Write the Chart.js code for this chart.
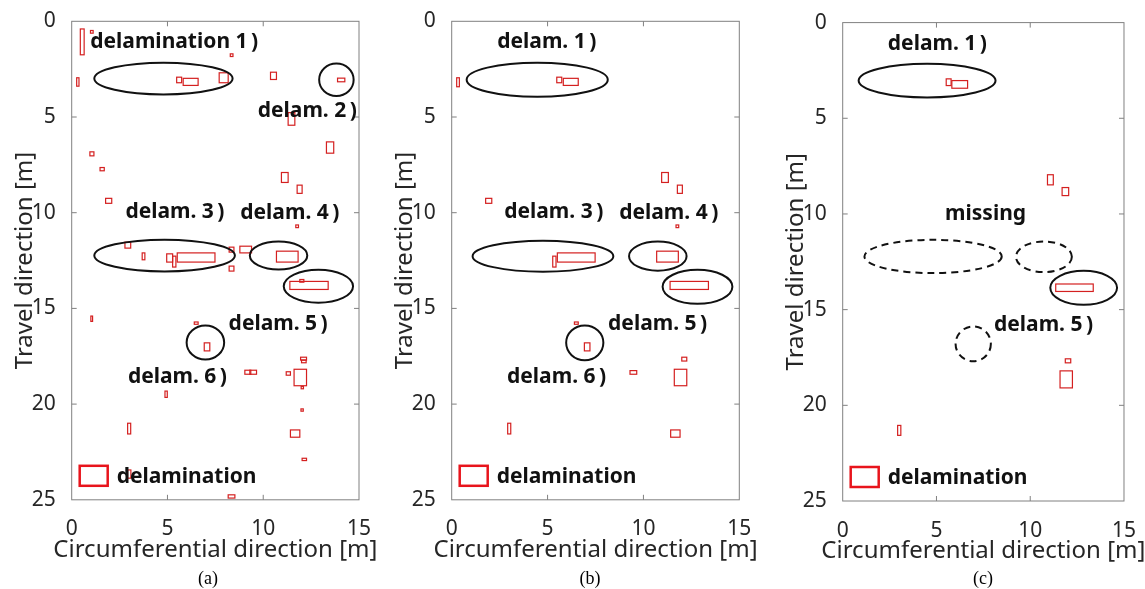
<!DOCTYPE html>
<html>
<head>
<meta charset="utf-8">
<script src="https://cdn.jsdelivr.net/npm/chart.js@4.4.1/dist/chart.umd.min.js"></script>
<style>
  body { margin: 0; background: #fff; width: 1145px; height: 589px; position: relative; overflow: hidden; }
  .panel { position: absolute; top: 0; height: 570px; }
  .cap { position: absolute; top: 569px; width: 40px; margin-left: -20px; text-align: center;
         font-family: "Liberation Serif", serif; font-size: 18px; line-height: 18px; color: #000; }
</style>
</head>
<body>
<div class="panel" style="left:0;width:385px"><canvas id="chartA"></canvas></div>
<div class="panel" style="left:380px;width:385px"><canvas id="chartB"></canvas></div>
<div class="panel" style="left:771px;width:374px"><canvas id="chartC"></canvas></div>
<div class="cap" style="left:208px">(a)</div>
<div class="cap" style="left:590px">(b)</div>
<div class="cap" style="left:983px">(c)</div>
<script>
// axis ranges (m)
const xRange = [0, 15];
const yRange = [0, 25];
const tickStep = 5;

// delaminations: [x0, y0, x1, y1] in metres
const rectsA = [
  [0.45, 0.4, 0.65, 1.75], [0.98, 0.48, 1.12, 0.62], [8.28, 1.7, 8.42, 1.84],
  [0.26, 2.95, 0.38, 3.39], [5.48, 2.92, 5.74, 3.21], [5.82, 2.98, 6.6, 3.35],
  [7.7, 2.69, 8.17, 3.21], [10.38, 2.66, 10.69, 3.04], [13.88, 2.97, 14.26, 3.16],
  [11.3, 4.77, 11.65, 5.43], [13.3, 6.3, 13.68, 6.89], [0.95, 6.82, 1.16, 7.03],
  [1.48, 7.64, 1.7, 7.81], [10.95, 7.9, 11.3, 8.42], [11.77, 8.56, 12.03, 8.99],
  [1.77, 9.25, 2.09, 9.51], [11.7, 10.64, 11.84, 10.78], [2.78, 11.54, 3.08, 11.85],
  [3.68, 12.1, 3.82, 12.46], [4.96, 12.15, 5.27, 12.58], [5.27, 12.27, 5.44, 12.84],
  [5.51, 12.1, 7.48, 12.58], [8.22, 11.8, 8.47, 12.06], [8.22, 12.79, 8.47, 13.05],
  [8.78, 11.75, 9.39, 12.1], [10.69, 12.01, 11.82, 12.58], [11.91, 13.49, 12.12, 13.63],
  [11.39, 13.59, 13.39, 14.01], [1.0, 15.4, 1.09, 15.68], [6.4, 15.71, 6.6, 15.83],
  [6.92, 16.8, 7.21, 17.22], [9.04, 18.23, 9.35, 18.44], [9.3, 18.23, 9.65, 18.44],
  [11.2, 18.31, 11.42, 18.49], [11.95, 17.55, 12.26, 17.7], [12.0, 17.7, 12.24, 17.84],
  [11.61, 18.18, 12.26, 19.04], [11.98, 19.08, 12.1, 19.2], [4.87, 19.32, 4.99, 19.65],
  [11.97, 20.25, 12.09, 20.37], [2.92, 21.0, 3.08, 21.56], [11.42, 21.35, 11.91, 21.73],
  [12.03, 22.83, 12.26, 22.95], [2.92, 23.44, 3.09, 23.87], [8.17, 24.74, 8.52, 24.91]
];
const rectsB = [
  [0.26, 2.95, 0.4, 3.42], [5.48, 2.92, 5.74, 3.21], [5.82, 2.98, 6.6, 3.35],
  [10.95, 7.9, 11.3, 8.42], [11.77, 8.56, 12.03, 8.99], [1.77, 9.25, 2.09, 9.51],
  [11.7, 10.64, 11.84, 10.78], [5.27, 12.27, 5.44, 12.84], [5.51, 12.1, 7.48, 12.58],
  [10.69, 12.01, 11.82, 12.58], [11.39, 13.59, 13.39, 14.01], [6.4, 15.71, 6.6, 15.83],
  [6.92, 16.8, 7.21, 17.22], [9.3, 18.25, 9.65, 18.44], [12.0, 17.55, 12.26, 17.75],
  [11.61, 18.18, 12.26, 19.04], [2.92, 21.0, 3.08, 21.56], [11.42, 21.35, 11.91, 21.73]
];
const rectsC = [
  [5.52, 2.94, 5.78, 3.29], [5.82, 3.03, 6.66, 3.43], [10.92, 7.95, 11.23, 8.48],
  [11.7, 8.62, 12.05, 9.04], [11.36, 13.66, 13.36, 14.05], [11.87, 17.57, 12.16, 17.78],
  [11.59, 18.2, 12.25, 19.09], [2.93, 21.05, 3.1, 21.57]
];

// circled regions: [cx, cy, rx, ry] in metres
const ringsA = [
  [4.79, 2.99, 3.61, 0.83], [13.82, 3.05, 0.9, 0.85], [4.85, 12.24, 3.67, 0.83],
  [10.8, 12.24, 1.5, 0.73], [12.88, 13.84, 1.81, 0.86], [6.98, 16.78, 0.98, 0.89]
];
const ringsB = [
  [4.46, 3.05, 3.68, 0.89], [4.76, 12.27, 3.67, 0.81], [10.75, 12.27, 1.5, 0.76],
  [12.82, 13.87, 1.82, 0.89], [6.94, 16.8, 0.97, 0.91]
];
const ringsC = [[4.5, 3.03, 3.65, 0.88], [12.85, 13.86, 1.78, 0.89]];
const missingC = [[4.82, 12.22, 3.66, 0.87], [10.73, 12.24, 1.49, 0.8], [6.96, 16.79, 0.94, 0.91]];

// annotations: [text, x, y]
const notesA = [
  ["delamination 1\u2009)", 5.35, 1.08], ["delam. 2\u2009)", 12.3, 4.7],
  ["delam. 3\u2009)", 5.39, 9.94], ["delam. 4\u2009)", 11.39, 10.02],
  ["delam. 5\u2009)", 10.78, 15.84], ["delam. 6\u2009)", 5.52, 18.6]
];
const notesB = [
  ["delam. 1\u2009)", 4.96, 1.08], ["delam. 3\u2009)", 5.32, 9.94],
  ["delam. 4\u2009)", 11.32, 10.02], ["delam. 5\u2009)", 10.74, 15.84],
  ["delam. 6\u2009)", 5.47, 18.6]
];
const notesC = [
  ["delam. 1\u2009)", 5.05, 1.12], ["missing", 7.62, 10.0], ["delam. 5\u2009)", 10.71, 15.82]
];

const FONT = "Noto Sans";
const INK = "#262626";

// 図形・注記・枠をスケール経由で描く
function delamPlugin(p) {
  return {
    id: "delam",
    afterDraw(chart) {
      const { ctx, chartArea: ca } = chart;
      const x = chart.scales.x, y = chart.scales.y;
      ctx.save();

      // box + inward ticks
      ctx.strokeStyle = "#808080";
      ctx.lineWidth = 1;
      ctx.strokeRect(ca.left, ca.top, ca.right - ca.left, ca.bottom - ca.top);
      ctx.beginPath();
      x.ticks.forEach((t) => {
        if (t.value <= x.min || t.value >= x.max) return;
        const px = x.getPixelForValue(t.value);
        ctx.moveTo(px, ca.bottom); ctx.lineTo(px, ca.bottom - 5);
        ctx.moveTo(px, ca.top); ctx.lineTo(px, ca.top + 5);
      });
      y.ticks.forEach((t) => {
        if (t.value <= y.min || t.value >= y.max) return;
        const py = y.getPixelForValue(t.value);
        ctx.moveTo(ca.left, py); ctx.lineTo(ca.left + 5, py);
        ctx.moveTo(ca.right, py); ctx.lineTo(ca.right - 5, py);
      });
      ctx.stroke();

      // delaminations
      ctx.strokeStyle = "#d42020";
      ctx.lineWidth = 1.2;
      p.rects.forEach(([x0, y0, x1, y1]) => {
        const l = x.getPixelForValue(x0), r = x.getPixelForValue(x1);
        const t = y.getPixelForValue(y0), b = y.getPixelForValue(y1);
        ctx.strokeRect(l, t, r - l, b - t);
      });

      // ellipses
      const ring = ([cx, cy, rx, ry]) => {
        const px = x.getPixelForValue(cx), py = y.getPixelForValue(cy);
        const w = Math.abs(x.getPixelForValue(cx + rx) - px);
        const h = Math.abs(y.getPixelForValue(cy + ry) - py);
        ctx.beginPath();
        ctx.ellipse(px, py, w, h, 0, 0, Math.PI * 2);
        ctx.stroke();
      };
      ctx.strokeStyle = "#111";
      ctx.lineWidth = 2;
      p.rings.forEach(ring);
      ctx.setLineDash([7, 5]);
      (p.missing || []).forEach(ring);
      ctx.setLineDash([]);

      // labels
      ctx.fillStyle = "#111";
      ctx.font = `bold 21px "${FONT}"`;
      ctx.textAlign = "center";
      ctx.textBaseline = "middle";
      p.notes.forEach(([txt, nx, ny]) => {
        ctx.fillText(txt, x.getPixelForValue(nx), y.getPixelForValue(ny));
      });

      // legend
      ctx.strokeStyle = "#e8141c";
      ctx.lineWidth = 2.5;
      ctx.strokeRect(ca.left + 8, ca.bottom - 34, 28, 20);
      ctx.textAlign = "left";
      ctx.fillText("delamination", ca.left + 45, ca.bottom - 23);

      // x axis title
      ctx.fillStyle = INK;
      ctx.font = `24px "${FONT}"`;
      ctx.textAlign = "center";
      ctx.fillText("Circumferential direction [m]", (ca.left + ca.right) / 2, ca.bottom + 50);
      ctx.restore();
    },
  };
}

function makeChart(id, p) {
  return new Chart(document.getElementById(id), {
    type: "scatter",
    data: { datasets: [] },
    options: {
      responsive: true,
      maintainAspectRatio: false,
      animation: false,
      events: [],
      layout: { padding: { top: p.top, right: p.right, left: 0, bottom: 0 } },
      plugins: { legend: { display: false }, tooltip: { enabled: false } },
      scales: {
        x: {
          type: "linear", min: xRange[0], max: xRange[1],
          grid: { display: false }, border: { display: false },
          ticks: { stepSize: tickStep, padding: 9, color: INK, font: { family: FONT, size: 21 } },
          afterFit: (s) => { s.height = p.xAxisH; },
        },
        y: {
          type: "linear", reverse: true, min: yRange[0], max: yRange[1],
          grid: { display: false }, border: { display: false },
          ticks: { stepSize: tickStep, padding: 8, color: INK, font: { family: FONT, size: 21 } },
          title: {
            display: true, text: "Travel direction [m]", color: INK,
            font: { family: FONT, size: 24 }, padding: { top: 10.6, bottom: 0 },
          },
          afterFit: (s) => { s.width = 71.7; },
        },
      },
    },
    plugins: [delamPlugin(p)],
  });
}

makeChart("chartA", { top: 21.3, right: 26, xAxisH: 70.2, rects: rectsA, rings: ringsA, notes: notesA });
makeChart("chartB", { top: 21.3, right: 25.7, xAxisH: 70.2, rects: rectsB, rings: ringsB, notes: notesB });
makeChart("chartC", { top: 22.6, right: 14.3, xAxisH: 69, rects: rectsC, rings: ringsC, missing: missingC, notes: notesC });
</script>
</body>
</html>
